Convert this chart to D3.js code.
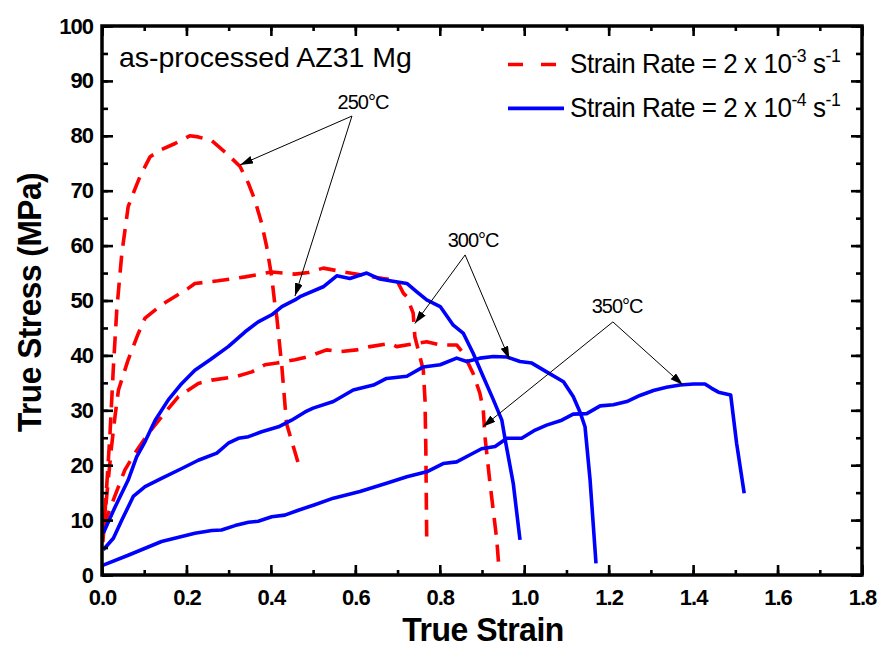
<!DOCTYPE html>
<html>
<head>
<meta charset="utf-8">
<script src="https://cdn.jsdelivr.net/npm/d3@7"></script>
<style>
  html, body { margin: 0; padding: 0; background: #fff; }
  svg { display: block; }
  text { font-family: "Liberation Sans", Arial, sans-serif; fill: #000; }
</style>
</head>
<body>
<svg id="chart" width="885" height="649"></svg>
<script>
// ---------------- DATA ----------------
const xTickValues = [0.0, 0.2, 0.4, 0.6, 0.8, 1.0, 1.2, 1.4, 1.6, 1.8];
const xTickLabels = ["0.0", "0.2", "0.4", "0.6", "0.8", "1.0", "1.2", "1.4", "1.6", "1.8"];
const yTickValues = [0, 10, 20, 30, 40, 50, 60, 70, 80, 90, 100];
const yTickLabels = ["0", "10", "20", "30", "40", "50", "60", "70", "80", "90", "100"];

// Strain rate 2x10^-3 s^-1 (red dashed)
const red250Strain = [0.002,0.006,0.011,0.019,0.027,0.035,0.047,0.062,0.077,0.090,0.114,0.141,0.173,0.208,0.228,0.26,0.295,0.327,0.347,0.362,0.378,0.39,0.402,0.41,0.414,0.426,0.437,0.465];
const red250Stress = [6,10,16,25.8,37.9,48.3,58.6,67.1,70.1,72.6,76.2,77.5,78.6,80,79.8,79.1,76.8,74.4,71.3,68.3,64.1,59.8,54.3,48.9,47,37.9,27.6,20.3];

const red300Strain = [0.003,0.012,0.022,0.031,0.039,0.062,0.086,0.102,0.141,0.149,0.204,0.22,0.275,0.339,0.402,0.457,0.489,0.524,0.587,0.666,0.698,0.714,0.722,0.737,0.741,0.749,0.761,0.765,0.767,0.769];
const red300Stress = [8,15,23,29,33.7,39.2,44,46.8,49.2,49.6,52.2,53.1,53.6,54.3,55.2,54.8,55.1,55.9,55,54,53.7,51.3,50.7,47.7,43.4,41,37.3,31.9,22.8,7];

const red350Strain = [0.003,0.027,0.054,0.078,0.11,0.141,0.181,0.228,0.26,0.315,0.355,0.386,0.414,0.457,0.489,0.532,0.564,0.603,0.635,0.682,0.698,0.745,0.769,0.801,0.84,0.856,0.879,0.895,0.903,0.907,0.919,0.935,0.939];
const red350Stress = [8.8,13.7,19.1,22.2,25.8,28.8,32.5,34.9,35.5,36.1,37,38.3,38.6,39.2,39.8,41,40.7,41,41.6,42.2,41.6,42.2,42.5,41.9,41.9,40.4,36.7,33.1,30.1,25.2,16.7,6.4,2.4];

// Strain rate 2x10^-4 s^-1 (blue solid)
const blue250Strain = [0.003,0.031,0.062,0.082,0.102,0.126,0.157,0.189,0.22,0.256,0.299,0.339,0.37,0.402,0.426,0.457,0.469,0.524,0.556,0.587,0.627,0.658,0.682,0.722,0.745,0.769,0.801,0.832,0.856,0.879,0.903,0.927,0.947,0.955,0.974,0.99];
const blue250Stress = [7.6,12.4,17.3,21.5,24.3,28.2,31.9,34.9,37.3,39.2,41.6,44.3,46.1,47.4,48.9,50.1,50.7,52.5,54.5,54,55,53.9,53.6,53.1,51.6,50.1,48.9,45.5,44,40.4,36.1,31.9,28.2,24.6,16.7,6.4];

const blue300Strain = [0.003,0.027,0.047,0.074,0.102,0.141,0.189,0.228,0.272,0.299,0.323,0.347,0.378,0.418,0.449,0.481,0.5,0.548,0.595,0.643,0.674,0.722,0.761,0.801,0.84,0.864,0.895,0.927,0.959,0.99,1.018,1.053,1.093,1.116,1.132,1.144,1.156,1.17];
const blue300Stress = [4.6,6.7,10,14.3,16.1,17.6,19.4,20.9,22.2,24,24.9,25.2,26.1,27,28.2,29.7,30.4,31.6,33.7,34.6,35.8,36.2,37.9,38.3,39.5,38.9,39.5,39.8,39.7,38.9,38.6,37,35.2,32.5,29.7,27,17.3,2.1];

const blue350Strain = [0.003,0.062,0.141,0.22,0.26,0.283,0.315,0.347,0.37,0.402,0.433,0.465,0.504,0.548,0.611,0.674,0.722,0.769,0.808,0.84,0.872,0.899,0.931,0.959,0.994,1.026,1.053,1.089,1.116,1.148,1.18,1.211,1.243,1.274,1.306,1.337,1.369,1.401,1.428,1.444,1.46,1.489,1.503,1.521];
const blue350Stress = [1.8,3.6,6.1,7.6,8.1,8.2,9,9.6,9.8,10.6,10.9,11.8,12.8,14,15.2,16.7,17.9,18.8,20.3,20.6,21.9,23,23.4,24.9,24.9,26.4,27.3,28.2,29.3,29.4,30.8,31,31.6,32.7,33.6,34.2,34.6,34.8,34.8,34,33.3,32.8,24,14.9];

// Annotations (data coordinates): label position, arrow apex, arrow tips
const annoLabels = ["250\u00B0C", "300\u00B0C", "350\u00B0C"];
const annoLabelPos = [[0.618, 84.9], [0.879, 59.7], [1.22, 47.7]];
const annoApex = [[0.592, 83.6], [0.86, 58.3], [1.21, 46.1]];
const annoTips = [[[0.327, 74.7], [0.457, 50.8]], [[0.741, 45.8], [0.965, 39.3]], [[0.902, 27.0], [1.376, 34.6]]];

const legendLabels = ["Strain Rate = 2 x 10", "Strain Rate = 2 x 10"];
const legendExponents = ["-3", "-4"];

// ---------------- CHART ----------------
const svg = d3.select("#chart");
const margin = { left: 102, right: 23, top: 26, bottom: 74 };
const W = 885, H = 649;
const x = d3.scaleLinear().domain([0, 1.8]).range([margin.left, W - margin.right]);
const y = d3.scaleLinear().domain([0, 100]).range([H - margin.bottom, margin.top]);

const RED = "#ff0000", BLUE = "#0000ff";

// curves
const line = d3.line().x(d => x(d[0])).y(d => y(d[1]));
const zip = (a, b) => a.map((v, i) => [v, b[i]]);
const series = [
  { s: red250Strain, t: red250Stress, c: RED, dash: true },
  { s: red300Strain, t: red300Stress, c: RED, dash: true },
  { s: red350Strain, t: red350Stress, c: RED, dash: true },
  { s: blue250Strain, t: blue250Stress, c: BLUE, dash: false },
  { s: blue300Strain, t: blue300Stress, c: BLUE, dash: false },
  { s: blue350Strain, t: blue350Stress, c: BLUE, dash: false }
];
const plot = svg.append("g");
series.forEach(sr => {
  plot.append("path")
    .attr("d", line(zip(sr.s, sr.t)))
    .attr("fill", "none")
    .attr("stroke", sr.c)
    .attr("stroke-width", 3.6)
    .attr("stroke-linejoin", "round")
    .attr("stroke-dasharray", sr.dash ? "17,10" : null);
});

// axes
const minorX = d3.range(0, 19).map(i => i / 10);
const minorY = d3.range(0, 21).map(i => i * 5);
const axG = svg.append("g");
function addAxis(gen, tr, vals, size, labels, pad) {
  const a = gen.tickValues(vals).tickSizeInner(-size).tickSizeOuter(0).tickPadding(pad || 0)
    .tickFormat(labels ? (d, i) => labels[i] : () => "");
  const g = axG.append("g").attr("transform", tr).call(a);
  g.select(".domain").remove();
  g.selectAll(".tick line").attr("stroke", "#000").attr("stroke-width", 2.6);
  return g;
}
const bottomY = y(0), topY = y(100), leftX = x(0), rightX = x(1.8);
addAxis(d3.axisBottom(x), `translate(0,${bottomY})`, minorX, 5);
const xb = addAxis(d3.axisBottom(x), `translate(0,${bottomY})`, xTickValues, 10, xTickLabels, 14);
addAxis(d3.axisTop(x), `translate(0,${topY})`, minorX, 5);
addAxis(d3.axisTop(x), `translate(0,${topY})`, xTickValues, 10);
addAxis(d3.axisLeft(y), `translate(${leftX},0)`, minorY, 6);
const yl = addAxis(d3.axisLeft(y), `translate(${leftX},0)`, yTickValues, 11, yTickLabels, 9);
addAxis(d3.axisRight(y), `translate(${rightX},0)`, minorY, 6);
addAxis(d3.axisRight(y), `translate(${rightX},0)`, yTickValues, 11);
[xb, yl].forEach(g => g.selectAll(".tick text")
  .attr("font-family", "Liberation Sans, Arial, sans-serif")
  .attr("font-size", 22).attr("font-weight", "bold").attr("letter-spacing", "-1"));

// frame
svg.append("rect")
  .attr("x", leftX).attr("y", topY)
  .attr("width", rightX - leftX).attr("height", bottomY - topY)
  .attr("fill", "none").attr("stroke", "#000").attr("stroke-width", 3.5);

// axis titles
svg.append("text")
  .attr("transform", `translate(${(leftX + rightX) / 2 + 1},${H - 8}) scale(0.94,1)`)
  .attr("text-anchor", "middle").attr("font-size", 34).attr("font-weight", "bold")
  .attr("letter-spacing", "-0.5")
  .text("True Strain");
svg.append("text")
  .attr("transform", `translate(41,${(topY + bottomY) / 2 + 2}) rotate(-90) scale(0.93,1)`)
  .attr("text-anchor", "middle").attr("font-size", 34).attr("font-weight", "bold")
  .attr("letter-spacing", "-0.5")
  .text("True Stress (MPa)");

// sample label
svg.append("text")
  .attr("x", x(0.04)).attr("y", y(92.5))
  .attr("font-size", 28.5)
  .text("as-processed AZ31 Mg");

// legend
const legY = [y(93.0), y(85.0)];
svg.append("line")
  .attr("x1", 508).attr("x2", 556).attr("y1", legY[0]).attr("y2", legY[0])
  .attr("stroke", RED).attr("stroke-width", 3.6).attr("stroke-dasharray", "15,18");
svg.append("line")
  .attr("x1", 508).attr("x2", 564).attr("y1", legY[1]).attr("y2", legY[1])
  .attr("stroke", BLUE).attr("stroke-width", 3.6);
legendLabels.forEach((lab, i) => {
  const t = svg.append("text")
    .attr("transform", `translate(570,${legY[i] + 9}) scale(0.93,1)`)
    .attr("font-size", 28).attr("letter-spacing", "-0.5");
  t.append("tspan").text(lab);
  t.append("tspan").attr("dy", -11).attr("font-size", 19).text(legendExponents[i]);
  t.append("tspan").attr("dy", 11).attr("font-size", 28).text(" s");
  t.append("tspan").attr("dy", -11).attr("font-size", 19).text("-1");
});

// annotations
const defs = svg.append("defs");
defs.append("marker")
  .attr("id", "arrow").attr("markerUnits", "userSpaceOnUse")
  .attr("markerWidth", 14).attr("markerHeight", 10)
  .attr("refX", 13).attr("refY", 4).attr("orient", "auto")
  .append("path").attr("d", "M0,0 L13,4 L0,8 Z").attr("fill", "#000");
annoLabels.forEach((lab, i) => {
  svg.append("text")
    .attr("x", x(annoLabelPos[i][0])).attr("y", y(annoLabelPos[i][1]))
    .attr("text-anchor", "middle").attr("font-size", 20).attr("letter-spacing", "-1")
    .text(lab);
  annoTips[i].forEach(tp => {
    svg.append("line")
      .attr("x1", x(annoApex[i][0])).attr("y1", y(annoApex[i][1]))
      .attr("x2", x(tp[0])).attr("y2", y(tp[1]))
      .attr("stroke", "#000").attr("stroke-width", 1)
      .attr("marker-end", "url(#arrow)");
  });
});
</script>
</body>
</html>
